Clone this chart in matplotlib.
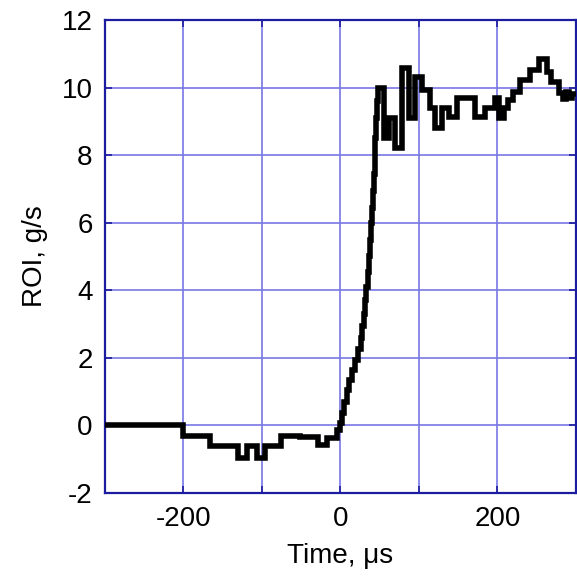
import matplotlib
matplotlib.use("Agg")
import matplotlib.pyplot as plt
from matplotlib.ticker import MultipleLocator

# Step breakpoints: value holds from each time until the next one
time_us = [
    -300, -200, -166, -130, -119, -106, -96, -76, -51, -28, -17, -4,
    -1, 2, 5, 8, 11, 15, 19, 23, 26, 28, 30, 31.5, 33, 34.5, 36, 37.5,
    39, 40.5, 41.5, 42.5, 43.5, 44.5, 45.5, 46.5,
    47.5, 56, 62, 69, 78, 88, 95, 104, 114, 121, 129, 138, 149, 172,
    184, 197, 202, 208, 214, 220, 229, 242, 253, 263, 268, 278, 283,
    287, 291, 295, 300,
]
roi_gs = [
    0.0, -0.31, -0.62, -0.96, -0.62, -0.96, -0.62, -0.31, -0.33, -0.57, -0.37, -0.13,
    0.08, 0.37, 0.70, 1.05, 1.35, 1.65, 1.94, 2.25, 2.6, 2.95, 3.3, 3.7,
    4.1, 4.55, 5.0, 5.5, 5.98, 6.45, 6.95, 7.45, 7.95, 8.5, 9.1, 9.6,
    10.0, 8.5, 9.1, 8.2, 10.57, 9.1, 10.3, 9.93, 9.4, 8.8, 9.4, 9.14, 9.68, 9.14,
    9.39, 9.68, 9.1, 9.39, 9.63, 9.88, 10.22, 10.52, 10.85, 10.47, 10.17, 9.83,
    9.65, 9.88, 9.7, 9.8, 9.8,
]

x_major = [-200, 0, 200]
y_major = [-2, 0, 2, 4, 6, 8, 10, 12]

plt.rcParams["font.family"] = ["Liberation Sans", "DejaVu Sans"]
plt.rcParams["axes.unicode_minus"] = False

fig = plt.figure(figsize=(5.77, 5.79), dpi=100)
ax = fig.add_axes([0.182, 0.1485, 0.816, 0.817])

grid_color = "#7878e6"
frame_color = "#1c1ca0"

ax.plot(time_us, roi_gs, drawstyle="steps-post", color="black",
        lw=4.0, solid_joinstyle="miter", zorder=3)

ax.set_xlim(-300, 300)
ax.set_ylim(-2, 12)
ax.set_xticks(x_major)
ax.xaxis.set_minor_locator(MultipleLocator(100))
ax.set_yticks(y_major)

ax.grid(True, which="both", color=grid_color, lw=1.2, zorder=1)
ax.set_axisbelow(True)

for side in ax.spines.values():
    side.set_color(frame_color)
    side.set_linewidth(1.6)

ax.tick_params(axis="both", which="both", direction="in", length=5,
               color=frame_color, width=1.2, labelsize=20, pad=9,
               top=True, right=True)

ax.set_xlabel("Time, \u03bcs", fontsize=20, labelpad=8)
ax.set_ylabel("ROI, g/s", fontsize=20, labelpad=10)

fig.savefig("out.png", dpi=100)
